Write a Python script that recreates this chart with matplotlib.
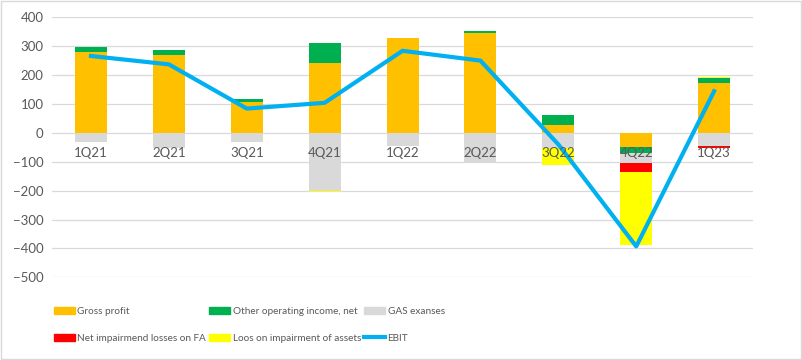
import numpy as np
import matplotlib
matplotlib.use('Agg')
import matplotlib.pyplot as plt
from matplotlib.patches import Patch, Rectangle
from matplotlib.lines import Line2D

# Datos
trimestres = ['1Q21', '2Q21', '3Q21', '4Q21', '1Q22', '2Q22', '3Q22', '4Q22', '1Q23']
gross_profit = [280, 270, 107, 243, 328, 346, 28, -50, 173]
other_income = [17, 17, 11, 68, 0, 7, 34, -21, 17]
gas_expenses = [-33, -51, -33, -200, -47, -101, -51, -32, -44]
net_impairment = [0, 0, 0, -3, 0, 0, 0, -31, -7]
loss_impairment = [0, 0, 0, -3, 0, 0, -62, -255, 2]
ebit = [266, 237, 84, 104, 284, 250, -40, -393, 144]

series = [
    ('Gross profit', gross_profit, '#FFC000'),
    ('Other operating income, net', other_income, '#00B050'),
    ('GAS exanses', gas_expenses, '#D9D9D9'),
    ('Net impairmend losses on FA', net_impairment, '#FF0000'),
    ('Loos on impairment of assets', loss_impairment, '#FFFF00'),
]

plt.rcParams['font.family'] = 'Lato'

fig = plt.figure(figsize=(8.03, 3.6), dpi=100)
ax = fig.add_axes([0.0648, 0.2297, 0.8730, 0.7223])

x = np.arange(len(trimestres))
pos_bottom = np.zeros(len(x))
neg_bottom = np.zeros(len(x))

# Barras apiladas (positivos hacia arriba, negativos hacia abajo)
for nombre, valores, color in series:
    v = np.array(valores, dtype=float)
    bottom = np.where(v >= 0, pos_bottom, neg_bottom)
    ax.bar(x, v, width=0.41, bottom=bottom, color=color, zorder=2)
    pos_bottom = pos_bottom + np.where(v >= 0, v, 0)
    neg_bottom = neg_bottom + np.where(v < 0, v, 0)

# Linea EBIT
ax.plot(x, ebit, color='#00B0F0', linewidth=3, zorder=3)

# Ejes
ax.set_xlim(-0.5, len(x) - 0.5)
ax.set_ylim(-500, 400)
ax.set_yticks(range(-500, 401, 100))
ax.tick_params(axis='y', length=0, labelsize=9.5, labelcolor='#595959', pad=6)
ax.set_xticks([])
ax.grid(axis='y', color='#D9D9D9', linewidth=0.9, zorder=0)
ax.set_axisbelow(True)
for s in ax.spines.values():
    s.set_visible(False)

# Etiquetas de categorias sobre el eje cero
for i, t in enumerate(trimestres):
    ax.text(i, -69, t, ha='center', va='center', fontsize=9.5, color='#595959', zorder=5)

# Leyenda (orden por filas)
h = [Patch(color=c) for _, _, c in series]
h.append(Line2D([0], [0], color='#00B0F0', linewidth=3))
labels = [s[0] for s in series] + ['EBIT']
orden = [0, 3, 1, 4, 2, 5]
fig.legend([h[i] for i in orden], [labels[i] for i in orden], ncol=3,
           loc='upper left', bbox_to_anchor=(0.056, 0.172), frameon=False,
           fontsize=7.2, handlelength=2.1, handletextpad=0.25,
           columnspacing=0.3, labelspacing=1.75, labelcolor='#595959')

# Marco exterior
fig.patches.append(Rectangle((0.001, 0.002), 0.996, 0.996, fill=False,
                             edgecolor='#D9D9D9', linewidth=1,
                             transform=fig.transFigure))

fig.savefig('out.png', dpi=100)
